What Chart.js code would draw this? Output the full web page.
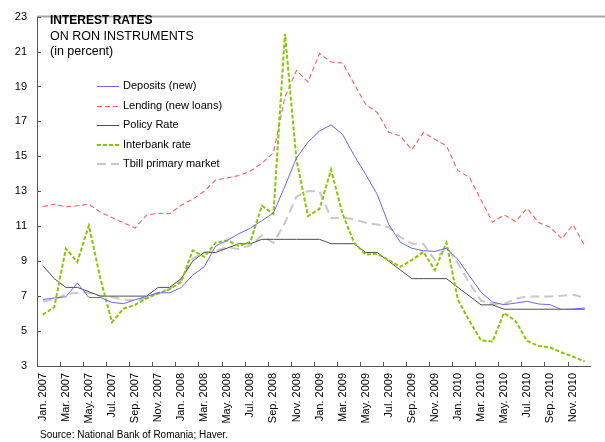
<!DOCTYPE html>
<html>
<head>
<meta charset="utf-8">
<script src="https://cdn.jsdelivr.net/npm/chart.js@4"></script>
<style>
  html, body { margin: 0; padding: 0; background: #fff; overflow: hidden; }
  #wrap { position: relative; width: 605px; height: 442px; }
  #chart { position: absolute; left: 0; top: 0; }
  .note { position: absolute; font-family: "Liberation Sans", Arial, sans-serif; color: #000; white-space: nowrap; }
  #title { left: 50px; top: 13px; font-size: 12.5px; line-height: 15.5px; }
  #title b { font-size: 12px; }
  #source { left: 40px; top: 429px; font-size: 10px; }
</style>
</head>
<body>
<div id="wrap">
  <canvas id="chart" width="605" height="442"></canvas>
  <div id="title" class="note"><b>INTEREST RATES</b><br>ON RON INSTRUMENTS<br>(in percent)</div>
  <div id="source" class="note">Source: National Bank of Romania; Haver.</div>
</div>
<script>
// categories: Jan. 2007 .. Dec. 2010, one per month
const monthNames = ['Jan.', 'Feb.', 'Mar.', 'Apr.', 'May.', 'Jun.', 'Jul.', 'Aug.', 'Sep.', 'Oct.', 'Nov.', 'Dec.'];
const years = [2007, 2008, 2009, 2010];
const months = [];
years.forEach(yr => monthNames.forEach(m => months.push(m + ' ' + yr)));

const yTicks = [3, 5, 7, 9, 11, 13, 15, 17, 19, 21, 23];

const deposits = [
  6.81, 6.89, 6.96, 7.75, 6.92, 6.92, 6.64, 6.57, 6.79, 6.98, 7.19, 7.19,
  7.49, 8.2, 8.68, 9.87, 10.19, 10.57, 10.89, 11.32, 11.76, 13.3, 14.9, 15.82,
  16.45, 16.8, 16.25, 15.05, 13.96, 12.83, 11.1, 10.08, 9.74, 9.6, 9.56, 9.74,
  9.1, 8.15, 7.23, 6.66, 6.51, 6.6, 6.7, 6.55, 6.51, 6.23, 6.26, 6.32
];
const lending = [
  12.12, 12.26, 12.11, 12.17, 12.26, 11.8, 11.5, 11.2, 10.9, 11.64, 11.74, 11.72,
  12.2, 12.55, 13.0, 13.64, 13.77, 13.9, 14.15, 14.6, 15.2, 18.4, 19.92, 19.26,
  20.89, 20.4, 20.34, 19.15, 17.98, 17.51, 16.38, 16.17, 15.38, 16.36, 15.98, 15.6,
  14.18, 13.8, 12.5, 11.23, 11.65, 11.27, 12.02, 11.21, 10.95, 10.29, 11.08, 9.87
];
const policy = [
  8.75, 8.0, 7.5, 7.5, 7.25, 7.0, 7.0, 7.0, 7.0, 7.0, 7.5, 7.5,
  8.0, 9.0, 9.5, 9.5, 9.75, 10.0, 10.0, 10.25, 10.25, 10.25, 10.25, 10.25,
  10.25, 10.0, 10.0, 10.0, 9.5, 9.5, 9.0, 8.5, 8.0, 8.0, 8.0, 8.0,
  7.5, 7.0, 6.5, 6.5, 6.25, 6.25, 6.25, 6.25, 6.25, 6.25, 6.25, 6.25
];
const interbank = [
  5.94, 6.36, 9.72, 8.96, 11.04, 8.0, 5.51, 6.28, 6.5, 6.87, 7.15, 7.4,
  7.8, 9.62, 9.25, 10.06, 10.19, 9.87, 10.1, 12.17, 11.7, 22.02, 14.8, 11.58,
  12.0, 14.24, 11.7, 10.05, 9.38, 9.43, 9.06, 8.68, 9.06, 9.53, 8.49, 10.06,
  6.79, 5.57, 4.47, 4.4, 6.04, 5.57, 4.43, 4.15, 4.06, 3.77, 3.53, 3.26
];
const tbill = [
  6.7, 6.8, 7.1, 7.2, 7.2, 7.0, 6.95, 6.8, 6.75, 6.9, 7.2, 7.4,
  7.9, 9.15, 9.5, 9.6, 9.8, 9.7, 9.9, 10.47, 10.05, 11.2, 12.7, 13.0,
  13.0, 11.47, 11.5, 11.4, 11.2, 11.1, 10.94, 10.38, 10.0, 10.0, 9.06, 9.81,
  8.87, 7.74, 6.74, 6.55, 6.55, 6.85, 6.98, 6.98, 6.98, 7.02, 7.08, 6.9
];

const FONT = '"Liberation Sans", Arial, sans-serif';

const seriesDefs = [
  { label: 'Deposits (new)', data: deposits, borderColor: '#6666ff', borderWidth: 1, borderDash: [] },
  { label: 'Lending (new loans)', data: lending, borderColor: '#ff5f5f', borderWidth: 1.1, borderDash: [5, 3] },
  { label: 'Policy Rate', data: policy, borderColor: '#4d4d4d', borderWidth: 1, borderDash: [] },
  { label: 'Interbank rate', data: interbank, borderColor: '#86c800', borderWidth: 2, borderDash: [4, 2] },
  { label: 'Tbill primary market', data: tbill, borderColor: '#c8c8c8', borderWidth: 2, borderDash: [9, 5] }
];

// draw order: lending at back, then tbill, policy, interbank, deposits on top
const drawOrder = [1, 4, 2, 3, 0];

const decor = {
  id: 'decor',
  afterDraw(chart) {
    const ctx = chart.ctx;
    const a = chart.chartArea;
    const x = chart.scales.x;
    const y = chart.scales.y;
    ctx.save();
    // top border of plot area
    ctx.strokeStyle = '#a6a6a6';
    ctx.lineWidth = 2;
    ctx.beginPath();
    ctx.moveTo(a.left, a.top);
    ctx.lineTo(605, a.top);
    ctx.stroke();

    // small inside tick marks
    ctx.strokeStyle = '#555';
    ctx.lineWidth = 1;
    ctx.beginPath();
    for (let i = 2; i < months.length; i += 2) {
      const px = Math.round((x.getPixelForValue(i - 1) + x.getPixelForValue(i)) / 2) + 0.5;
      ctx.moveTo(px, a.bottom);
      ctx.lineTo(px, a.bottom - 4);
    }
    yTicks.forEach(v => {
      const py = Math.round(y.getPixelForValue(v)) + 0.5;
      ctx.moveTo(a.left, py);
      ctx.lineTo(a.left + 4, py);
    });
    ctx.stroke();

    // legend inside the plot
    ctx.font = '11px ' + FONT;
    ctx.textBaseline = 'middle';
    ctx.fillStyle = '#000';
    seriesDefs.forEach((s, i) => {
      const ly = Math.round(86 + i * 19.5) + (s.borderWidth < 1.5 ? 0.5 : 0);
      ctx.strokeStyle = s.borderColor;
      ctx.lineWidth = s.borderWidth;
      ctx.setLineDash(s.borderDash);
      ctx.beginPath();
      ctx.moveTo(97, ly);
      ctx.lineTo(119, ly);
      ctx.stroke();
      ctx.setLineDash([]);
      ctx.fillText(s.label, 123, Math.round(86 + i * 19.5));
    });
    ctx.restore();
  }
};

new Chart(document.getElementById('chart'), {
  type: 'line',
  data: {
    labels: months,
    datasets: drawOrder.map((k, n) => {
      const s = seriesDefs[k];
      return {
        label: s.label,
        data: s.data,
        borderColor: s.borderColor,
        borderWidth: s.borderWidth,
        borderDash: s.borderDash,
        pointRadius: 0,
        tension: 0,
        fill: false,
        order: drawOrder.length - n
      };
    })
  },
  options: {
    responsive: false,
    animation: false,
    devicePixelRatio: 1,
    layout: { padding: { top: 12, right: 0, left: 0, bottom: 0 } },
    plugins: {
      legend: { display: false },
      tooltip: { enabled: false }
    },
    scales: {
      x: {
        type: 'category',
        offset: true,
        grid: { display: false, drawTicks: false },
        border: { display: true, color: '#555', width: 1 },
        ticks: {
          autoSkip: false,
          minRotation: 90,
          maxRotation: 90,
          padding: 7,
          color: '#000',
          font: { family: FONT, size: 11 },
          callback: function (val, idx) { return idx % 2 === 0 ? this.getLabelForValue(val) : ''; }
        },
        afterFit: scale => { scale.height = 76; }
      },
      y: {
        min: 3,
        max: 23,
        grid: { display: false, drawTicks: false },
        border: { display: true, color: '#555', width: 1 },
        ticks: {
          stepSize: 2,
          padding: 10,
          color: '#000',
          font: { family: FONT, size: 11 }
        },
        afterFit: scale => { scale.width = 37; }
      }
    }
  },
  plugins: [decor]
});
</script>
</body>
</html>
